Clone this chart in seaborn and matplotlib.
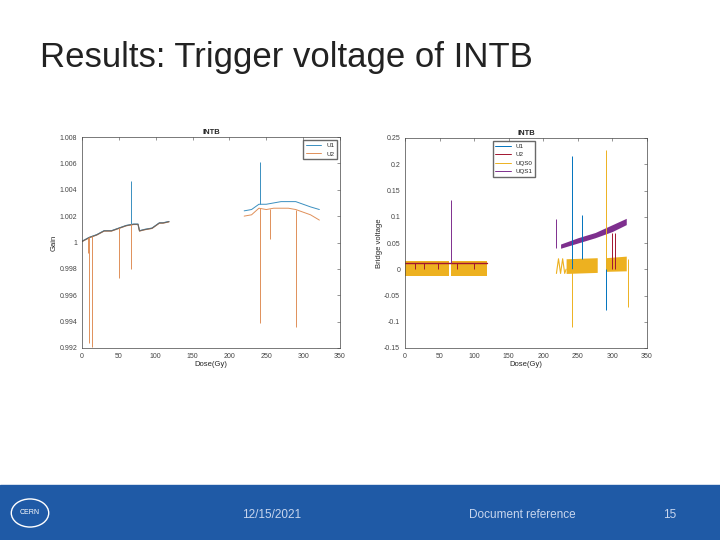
import matplotlib
matplotlib.use("Agg")
import matplotlib.pyplot as plt
import seaborn as sns
import numpy as np
from matplotlib.patches import Rectangle, Circle

sns.set_style("white")
plt.rcParams['font.family'] = ['Liberation Sans', 'DejaVu Sans']

# ---- Left chart data (Gain) ----
u1_seg1_x = [0, 10, 20, 30, 40, 50, 60, 70, 76, 78, 85, 95, 105, 110, 118]
u1_seg1_y = [1.0001, 1.0004, 1.0006, 1.0009, 1.0009, 1.0011, 1.0013, 1.0014, 1.0014, 1.0009, 1.0010, 1.0011, 1.0015, 1.0015, 1.0016]
u1_seg2_x = [220, 230, 240, 250, 260, 270, 280, 290, 300, 310, 322]
u1_seg2_y = [1.0024, 1.0025, 1.0029, 1.0029, 1.0030, 1.0031, 1.0031, 1.0031, 1.0029, 1.0027, 1.0025]
u2_seg2_y = [1.0020, 1.0021, 1.0026, 1.0025, 1.0026, 1.0026, 1.0026, 1.0025, 1.0023, 1.0021, 1.0017]
u1_spike_x = [67, 242]
u1_spike_top = [1.0047, 1.0061]
u2_spike_x = [8, 10, 14, 50, 67, 242, 255, 290]
u2_spike_bot = [0.9992, 0.9924, 0.9921, 0.9973, 0.9980, 0.9939, 1.0003, 0.9936]

# ---- Right chart data (Bridge voltage) ----
uqs0_band_x = [[0, 63], [66, 118], [233, 278], [290, 320]]
uqs0_band_lo = [[-0.012, -0.012], [-0.012, -0.012], [-0.008, -0.006], [-0.004, -0.003]]
uqs0_band_hi = [[0.016, 0.016], [0.016, 0.016], [0.020, 0.022], [0.022, 0.025]]
uqs0_zig_x = [219, 222, 225, 228, 231, 233]
uqs0_zig_y = [-0.008, 0.02, -0.008, 0.02, -0.008, 0.0]
u2_line_x = [0, 63, 66, 118]
u2_line_y = [0.012, 0.012, 0.012, 0.012]
uqs1_band_x = [225, 250, 275, 300, 320]
uqs1_band_lo = [0.040, 0.050, 0.060, 0.072, 0.085]
uqs1_band_hi = [0.048, 0.060, 0.070, 0.085, 0.097]
r_spikes = [  # (series, x, y0, y1)
    ("UQS1", 67, 0.012, 0.131), ("UQS1", 219, 0.04, 0.095),
    ("U1", 242, 0.0, 0.215), ("U1", 256, 0.02, 0.103), ("U1", 290, 0.02, -0.078),
    ("UQS0", 242, 0.0, -0.11), ("UQS0", 290, 0.0, 0.227), ("UQS0", 322, 0.02, -0.072),
    ("U2", 300, 0.0, 0.07), ("U2", 304, 0.0, 0.07),
    ("U2", 15, 0.0, 0.012), ("U2", 28, 0.0, 0.012), ("U2", 48, 0.0, 0.012), ("U2", 75, 0.0, 0.012), ("U2", 100, 0.0, 0.012),
]
colors = {"U1": "#0072BD", "U2": "#A2142F", "UQS0": "#EDB120", "UQS1": "#7E2F8E"}
c_u1, c_u2 = "#3a8fc0", "#e0905a"

fig = plt.figure(figsize=(7.2, 5.4), dpi=100)
fig.text(40/720, 1-58/540, "Results: Trigger voltage of INTB", fontsize=25, va="center", color="#222")

# footer
fig.patches.append(Rectangle((0, 0), 1, 55/540, transform=fig.transFigure, color="#1f5aa6", zorder=0))
fig.patches.append(Circle((30/720, 27/540), 0.026, transform=fig.transFigure, fill=False, ec="white", lw=1))
fig.text(30/720, 27/540, "CERN", color="white", fontsize=5, ha="center", va="center")
fig.text(272/720, 25/540, "12/15/2021", color="#c8d6ee", fontsize=8.5, ha="center", va="center")
fig.text(522/720, 25/540, "Document reference", color="#c8d6ee", fontsize=8.5, ha="center", va="center")
fig.text(670/720, 25/540, "15", color="#c8d6ee", fontsize=8.5, ha="center", va="center")

def style(ax):
    for s in ax.spines.values():
        s.set_linewidth(0.5); s.set_color("#444")
    ax.tick_params(labelsize=5, length=2, width=0.4, direction="in", top=True, right=True, colors="#444")
    ax.set_title("INTB", fontsize=5.5, fontweight="bold", pad=2)

# Left
ax1 = fig.add_axes([82/720, 1-348/540, 258/720, 211/540])
sns.lineplot(x=u1_seg1_x, y=u1_seg1_y, ax=ax1, color=c_u1, lw=0.7, label="U1")
sns.lineplot(x=u1_seg1_x, y=[v - 0.00004 for v in u1_seg1_y], ax=ax1, color=c_u2, lw=0.7, label="U2")
sns.lineplot(x=u1_seg1_x, y=[v - 0.00002 for v in u1_seg1_y], ax=ax1, color="#666", lw=0.8)
sns.lineplot(x=u1_seg2_x, y=u1_seg2_y, ax=ax1, color=c_u1, lw=0.7)
sns.lineplot(x=u1_seg2_x, y=u2_seg2_y, ax=ax1, color=c_u2, lw=0.7)
base1 = np.interp(u1_spike_x, u1_seg1_x + u1_seg2_x, u1_seg1_y + u1_seg2_y)
ax1.vlines(u1_spike_x, base1, u1_spike_top, color=c_u1, lw=0.7)
base2 = np.interp(u2_spike_x, u1_seg1_x + u1_seg2_x, u1_seg1_y + u2_seg2_y)
ax1.vlines(u2_spike_x, base2, u2_spike_bot, color=c_u2, lw=0.7)
ax1.set_xlim(0, 350); ax1.set_ylim(0.992, 1.008)
ax1.set_yticks([0.992, 0.994, 0.996, 0.998, 1.0, 1.002, 1.004, 1.006, 1.008])
ax1.set_yticklabels(["0.992", "0.994", "0.996", "0.998", "1", "1.002", "1.004", "1.006", "1.008"])
ax1.set_xlabel("Dose(Gy)", fontsize=5.5, labelpad=1); ax1.set_ylabel("Gain", fontsize=5.5, labelpad=1)
style(ax1)
ax1.legend(fontsize=4.5, loc="upper right", frameon=True, fancybox=False, edgecolor="#444", handlelength=2.5)

# Right
ax2 = fig.add_axes([405/720, 1-348/540, 242/720, 210/540])
for xs, lo, hi in zip(uqs0_band_x, uqs0_band_lo, uqs0_band_hi):
    ax2.fill_between(xs, lo, hi, color=colors["UQS0"], lw=0)
sns.lineplot(x=uqs0_zig_x, y=uqs0_zig_y, ax=ax2, color=colors["UQS0"], lw=0.8, sort=False)
ax2.fill_between(uqs1_band_x, uqs1_band_lo, uqs1_band_hi, color=colors["UQS1"], lw=0)
sns.lineplot(x=u2_line_x, y=u2_line_y, ax=ax2, color=colors["U2"], lw=1.0)
for s, x, y0, y1 in r_spikes:
    ax2.vlines(x, y0, y1, color=colors[s], lw=0.7)
for s in ["U1", "U2", "UQS0", "UQS1"]:
    ax2.plot([], [], color=colors[s], lw=0.7, label=s)
ax2.set_xlim(0, 350); ax2.set_ylim(-0.15, 0.25)
ax2.set_yticks([-0.15, -0.1, -0.05, 0, 0.05, 0.1, 0.15, 0.2, 0.25])
ax2.set_yticklabels(["-0.15", "-0.1", "-0.05", "0", "0.05", "0.1", "0.15", "0.2", "0.25"])
ax2.set_xlabel("Dose(Gy)", fontsize=5.5, labelpad=1); ax2.set_ylabel("Bridge voltage", fontsize=5.5, labelpad=1)
style(ax2)
ax2.legend(fontsize=4.5, loc="upper center", bbox_to_anchor=(0.45, 1.0), frameon=True, fancybox=False, edgecolor="#444", handlelength=2.5)

fig.savefig("out.png", dpi=100)
